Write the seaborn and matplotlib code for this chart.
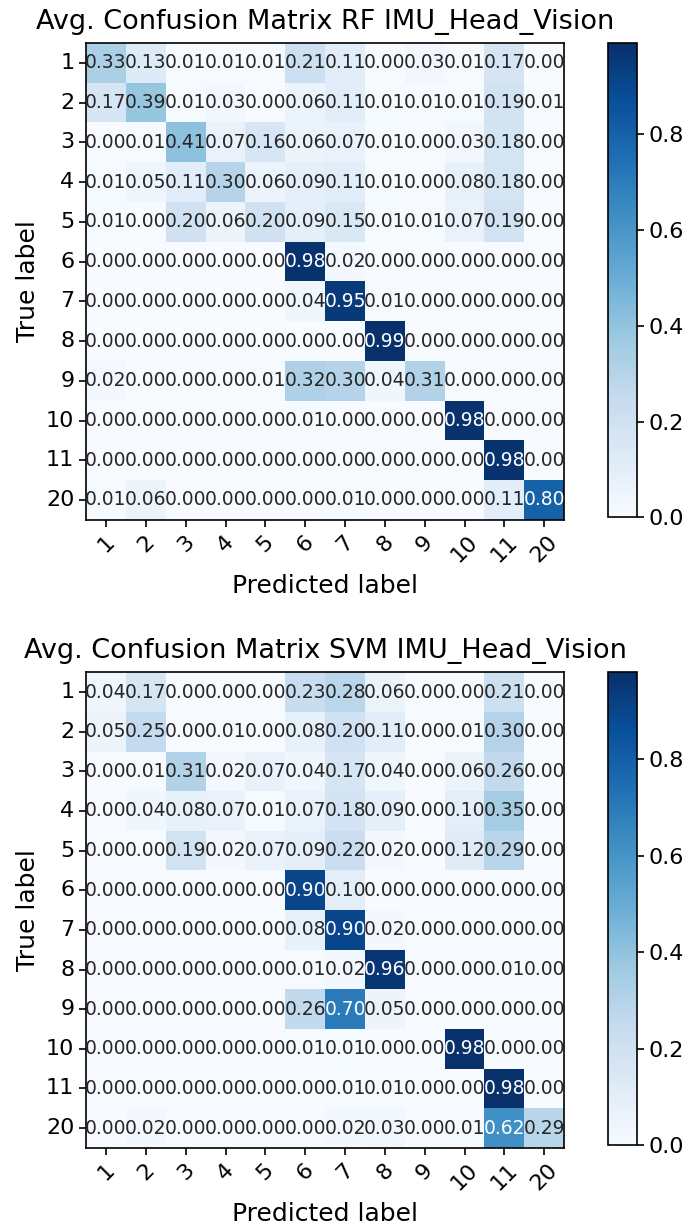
import numpy as np
import pandas as pd
import seaborn as sns
import matplotlib
matplotlib.use('Agg')
import matplotlib.pyplot as plt

labels = ['1', '2', '3', '4', '5', '6', '7', '8', '9', '10', '11', '20']

# averaged confusion matrix, random forest
rf = [
    [0.33, 0.13, 0.01, 0.01, 0.01, 0.21, 0.11, 0.00, 0.03, 0.01, 0.17, 0.00],
    [0.17, 0.39, 0.01, 0.03, 0.00, 0.06, 0.11, 0.01, 0.01, 0.01, 0.19, 0.01],
    [0.00, 0.01, 0.41, 0.07, 0.16, 0.06, 0.07, 0.01, 0.00, 0.03, 0.18, 0.00],
    [0.01, 0.05, 0.11, 0.30, 0.06, 0.09, 0.11, 0.01, 0.00, 0.08, 0.18, 0.00],
    [0.01, 0.00, 0.20, 0.06, 0.20, 0.09, 0.15, 0.01, 0.01, 0.07, 0.19, 0.00],
    [0.00, 0.00, 0.00, 0.00, 0.00, 0.98, 0.02, 0.00, 0.00, 0.00, 0.00, 0.00],
    [0.00, 0.00, 0.00, 0.00, 0.00, 0.04, 0.95, 0.01, 0.00, 0.00, 0.00, 0.00],
    [0.00, 0.00, 0.00, 0.00, 0.00, 0.00, 0.00, 0.99, 0.00, 0.00, 0.00, 0.00],
    [0.02, 0.00, 0.00, 0.00, 0.01, 0.32, 0.30, 0.04, 0.31, 0.00, 0.00, 0.00],
    [0.00, 0.00, 0.00, 0.00, 0.00, 0.01, 0.00, 0.00, 0.00, 0.98, 0.00, 0.00],
    [0.00, 0.00, 0.00, 0.00, 0.00, 0.00, 0.00, 0.00, 0.00, 0.00, 0.98, 0.00],
    [0.01, 0.06, 0.00, 0.00, 0.00, 0.00, 0.01, 0.00, 0.00, 0.00, 0.11, 0.80],
]

# averaged confusion matrix, svm
svm = [
    [0.04, 0.17, 0.00, 0.00, 0.00, 0.23, 0.28, 0.06, 0.00, 0.00, 0.21, 0.00],
    [0.05, 0.25, 0.00, 0.01, 0.00, 0.08, 0.20, 0.11, 0.00, 0.01, 0.30, 0.00],
    [0.00, 0.01, 0.31, 0.02, 0.07, 0.04, 0.17, 0.04, 0.00, 0.06, 0.26, 0.00],
    [0.00, 0.04, 0.08, 0.07, 0.01, 0.07, 0.18, 0.09, 0.00, 0.10, 0.35, 0.00],
    [0.00, 0.00, 0.19, 0.02, 0.07, 0.09, 0.22, 0.02, 0.00, 0.12, 0.29, 0.00],
    [0.00, 0.00, 0.00, 0.00, 0.00, 0.90, 0.10, 0.00, 0.00, 0.00, 0.00, 0.00],
    [0.00, 0.00, 0.00, 0.00, 0.00, 0.08, 0.90, 0.02, 0.00, 0.00, 0.00, 0.00],
    [0.00, 0.00, 0.00, 0.00, 0.00, 0.01, 0.02, 0.96, 0.00, 0.00, 0.01, 0.00],
    [0.00, 0.00, 0.00, 0.00, 0.00, 0.26, 0.70, 0.05, 0.00, 0.00, 0.00, 0.00],
    [0.00, 0.00, 0.00, 0.00, 0.00, 0.01, 0.01, 0.00, 0.00, 0.98, 0.00, 0.00],
    [0.00, 0.00, 0.00, 0.00, 0.00, 0.00, 0.01, 0.01, 0.00, 0.00, 0.98, 0.00],
    [0.00, 0.02, 0.00, 0.00, 0.00, 0.00, 0.02, 0.03, 0.00, 0.01, 0.62, 0.29],
]

titles = ['Avg. Confusion Matrix RF IMU_Head_Vision',
          'Avg. Confusion Matrix SVM IMU_Head_Vision']

fig = plt.figure(figsize=(6.83, 12.29), dpi=100)

# [left, bottom, width, height] for matrix and colorbar
boxes = [
    ([0.126, 0.577, 0.700, 0.388], [0.890, 0.579, 0.042, 0.386]),
    ([0.126, 0.066, 0.700, 0.387], [0.890, 0.068, 0.042, 0.385]),
]

for cm, title, (abox, cbox) in zip([rf, svm], titles, boxes):
    df = pd.DataFrame(cm, index=labels, columns=labels)
    ax = fig.add_axes(abox)
    cax = fig.add_axes(cbox)
    sns.heatmap(df, ax=ax, cbar_ax=cax, cmap='Blues', annot=True, fmt='.2f',
                annot_kws={'fontsize': 13.5}, vmin=0)
    for s in ax.spines.values():
        s.set_visible(True)
        s.set_linewidth(1.2)
    ax.tick_params(axis='both', length=5, width=1.2, labelsize=16)
    ax.set_xticklabels(labels, rotation=45)
    ax.set_yticklabels(labels, rotation=0)
    ax.set_xlabel('Predicted label', fontsize=18, labelpad=6)
    ax.set_ylabel('True label', fontsize=18)
    ax.set_title(title, fontsize=19.5, pad=10)
    cax.tick_params(labelsize=16, length=5, width=1.2)
    cax.set_yticks([0.0, 0.2, 0.4, 0.6, 0.8])
    cbar = ax.collections[0].colorbar
    cbar.outline.set_visible(True)
    cbar.outline.set_linewidth(1.2)

fig.savefig('out.png', dpi=100)
